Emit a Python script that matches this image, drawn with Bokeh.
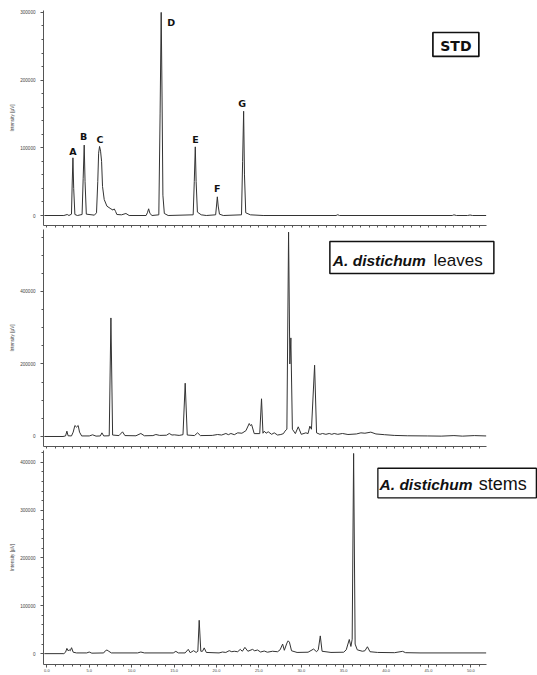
from bokeh.plotting import figure
from bokeh.layouts import column
from bokeh.models import FixedTicker, NumeralTickFormatter, BoxAnnotation, Label
from bokeh.embed import file_html
from bokeh.resources import INLINE

# ---------------- data ----------------
# retention time (min) / intensity (uV) points of each chromatogram
std_time = [-0.3, 2.0, 2.4, 2.6, 2.9, 2.98, 3.07, 3.16, 3.3, 3.6, 4.15, 4.28, 4.4, 4.5, 4.65,
            5.6, 5.85, 6.0, 6.1, 6.21, 6.33, 6.45, 6.56, 6.76, 7.08, 7.55, 7.8, 7.94, 8.1,
            8.25, 8.8, 9.32, 9.7, 11.7, 11.85, 12.0, 12.15, 12.4, 13.2, 13.35, 13.48, 13.58,
            13.68, 13.85, 14.3, 17.25, 17.38, 17.5, 17.6, 17.75, 18.2, 18.8, 19.9, 20.0, 20.1,
            20.2, 20.35, 20.8, 22.95, 23.08, 23.2, 23.3, 23.45, 24.0, 25.5, 34.1, 34.3, 34.5,
            47.8, 48.0, 48.3, 49.6, 49.9, 50.2, 51.8]
std_intensity = [0, 0, 1500, 0, 2000, 45000, 85200, 40000, 1500, 0, 1500, 55000, 104000, 50000, 2000,
                 500, 4000, 50000, 92000, 102000, 95000, 80000, 43000, 23600, 13800, 9800, 8000, 9800, 6000,
                 1500, 1000, 3000, 0, 0, 4000, 9900, 3000, 0, 1000, 150000, 300000, 175000,
                 30000, 3000, 0, 1000, 50000, 101400, 50000, 5000, 1000, 0, 1000, 14000, 27600,
                 14000, 2000, 0, 1000, 80000, 154000, 60000, 4000, 1000, 0, 0, 1200, 0,
                 0, 1000, 0, 0, 700, 0, 0]

leaves_time = [-0.3, 1.9, 2.2, 2.36, 2.5, 2.9, 3.1, 3.3, 3.5, 3.69, 3.85, 4.1, 5.0, 5.39, 5.8,
               6.3, 6.49, 6.7, 7.35, 7.55, 7.75, 8.5, 8.92, 9.2, 10.5, 11.08, 11.5, 12.5, 12.85,
               13.3, 14.1, 14.43, 14.75, 15.02, 15.6, 16.05, 16.31, 16.55, 17.4, 17.77, 18.1,
               19.5, 20.13, 20.6, 21.11, 21.4, 21.7, 22.1, 22.5, 23.0, 23.47, 23.86, 24.0, 24.14,
               24.45, 25.1, 25.31, 25.48, 25.63, 25.85, 26.1, 26.5, 26.81, 27.2, 27.59, 27.9,
               28.07, 28.3, 28.5, 28.65, 28.77, 28.95, 29.3, 29.64, 30.0, 30.54, 30.8, 31.01,
               31.2, 31.57, 31.8, 32.2, 32.5, 32.9, 33.29, 33.6, 33.88, 34.3, 34.86, 35.5, 36.5,
               37.03, 37.5, 38.2, 38.8, 39.8, 40.96, 42.5, 44.9, 46.5, 48.0, 49.0, 50.4, 51.8]
leaves_intensity = [0, 0, 1500, 14700, 2000, 1500, 12000, 30300, 26000, 30300, 12000, 1500, 1500, 4600, 1000,
                    1500, 10100, 1500, 2000, 327000, 4000, 2500, 12900, 2500, 2000, 8300, 2000, 2500, 5500,
                    3000, 3500, 8300, 4000, 4600, 3000, 5000, 147000, 4000, 2500, 10100, 2500,
                    3000, 5500, 4000, 8300, 5000, 8300, 5000, 10100, 9000, 16000, 35800, 30000, 33000,
                    8000, 8000, 104000, 9000, 14700, 9000, 13000, 6000, 10100, 4000, 5500, 8000,
                    14700, 20000, 563700, 200000, 272000, 20000, 8000, 26700, 6000, 10100, 8000, 28500,
                    20000, 196700, 10000, 6000, 8300, 6000, 8300, 6000, 8300, 6000, 8300, 5500, 7000,
                    10100, 9000, 12000, 7000, 5000, 3000, 2000, 1500, 1000, 2500, 1000, 2500, 1500]

stems_time = [-0.3, 2.0, 2.2, 2.36, 2.5, 2.63, 2.75, 2.91, 3.1, 3.5, 4.7, 4.99, 5.3, 6.7, 6.9,
              7.08, 7.3, 7.6, 10.7, 11.08, 11.5, 14.9, 15.21, 15.5, 16.3, 16.67, 16.9, 17.3,
              17.6, 17.8, 17.96, 18.15, 18.35, 18.55, 18.8, 20.3, 20.71, 21.1, 21.5, 21.8, 22.09,
              22.5, 22.8, 23.05, 23.35, 23.7, 24.25, 24.5, 24.84, 25.2, 25.63, 26.0, 26.61, 27.2,
              27.5, 27.8, 28.0, 28.3, 28.45, 28.6, 28.85, 29.5, 30.8, 31.45, 31.8, 32.0, 32.24,
              32.45, 33.5, 35.0, 35.3, 35.66, 35.85, 36.0, 36.17, 36.35, 36.6, 37.2, 37.5, 37.8,
              38.1, 39.0, 41.0, 41.94, 42.3, 44.0, 51.8]
stems_intensity = [0, 0, 3000, 11000, 6000, 8000, 6000, 12400, 3000, 1500, 1500, 3400, 1000, 1500, 6000,
                   7600, 5000, 1500, 1500, 3400, 1500, 1500, 4800, 1500, 1500, 9000, 2000, 6200,
                   2500, 5000, 69700, 5000, 5000, 12000, 2500, 1500, 3400, 2500, 6200, 4000, 5000,
                   4000, 8900, 5000, 13100, 5000, 8900, 6000, 7600, 3400, 5500, 3000, 5000, 4000,
                   8000, 20000, 7000, 22000, 26800, 24000, 6000, 2500, 3000, 9600, 4000, 8000, 37100,
                   5000, 2500, 3000, 8000, 29600, 15000, 30000, 418500, 20000, 8000, 5000, 6000, 14400,
                   4000, 2500, 2000, 4800, 2000, 1500, 1500]

# peak letters of the standard chromatogram
std_peak_labels = ["A", "B", "C", "D", "E", "F", "G"]
std_label_time = [3.07, 4.33, 6.25, 14.66, 17.51, 20.08, 23.03]
std_label_intensity = [94100, 116700, 112300, 285400, 112700, 40200, 165900]

# axis ticks
x_major_ticks = [0, 5, 10, 15, 20, 25, 30, 35, 40, 45, 50]
x_minor_ticks = list(range(0, 52))
std_y_ticks = [0, 100000, 200000, 300000]
leaves_y_ticks = [0, 200000, 400000]
stems_y_ticks = [0, 100000, 200000, 300000, 400000]
std_y_minor = list(range(0, 300001, 20000))
leaves_y_minor = list(range(0, 550001, 50000))
stems_y_minor = list(range(0, 420001, 20000))

y_axis_title = "Intensity [µV]"

# ---------------- layout / style ----------------
X_START, AXIS_END = -0.4, 51.8
FRAME_W = 494
X_END = X_START + FRAME_W / 8.48
LINE_C = "#333333"
AXIS_C = "#555555"
TICK_FONT = "Liberation Sans"


def make_panel(t, y, y_range, y_major, y_minor, frame_h, b_top, b_bottom, x_labels):
    p = figure(frame_width=FRAME_W, frame_height=frame_h,
               x_range=(X_START, X_END), y_range=y_range,
               output_backend="svg", toolbar_location=None,
               min_border_left=43, min_border_right=0,
               min_border_top=b_top, min_border_bottom=b_bottom)
    p.grid.visible = False
    p.outline_line_color = None
    p.background_fill_color = "white"
    p.border_fill_color = "white"
    p.line(t, y, line_color=LINE_C, line_width=1, line_join="round")

    xa = p.xaxis[0]
    if x_labels:
        xa.ticker = FixedTicker(ticks=x_major_ticks, minor_ticks=x_minor_ticks)
    else:
        xa.ticker = FixedTicker(ticks=[], minor_ticks=x_minor_ticks)
    xa.bounds = (X_START, AXIS_END)
    xa.formatter = NumeralTickFormatter(format="0.0")
    xa.axis_line_color = AXIS_C
    xa.major_tick_line_color = AXIS_C
    xa.minor_tick_line_color = AXIS_C
    xa.major_tick_in = 0
    xa.major_tick_out = 3
    xa.minor_tick_in = 0
    xa.minor_tick_out = 2
    xa.major_label_text_font = TICK_FONT
    xa.major_label_text_color = "#444444"
    xa.major_label_text_font_size = "4px"
    xa.major_label_standoff = 1

    ya = p.yaxis[0]
    ya.ticker = FixedTicker(ticks=y_major, minor_ticks=y_minor)
    ya.formatter = NumeralTickFormatter(format="0")
    ya.axis_line_color = AXIS_C
    ya.major_tick_line_color = AXIS_C
    ya.minor_tick_line_color = AXIS_C
    ya.major_tick_in = 0
    ya.major_tick_out = 3
    ya.minor_tick_in = 0
    ya.minor_tick_out = 2
    ya.major_label_text_font = TICK_FONT
    ya.major_label_text_font_size = "4.6px"
    ya.major_label_text_color = "#444444"
    ya.major_label_standoff = 5
    ya.axis_label = y_axis_title
    ya.axis_label_text_font = TICK_FONT
    ya.axis_label_text_font_size = "4.7px"
    ya.axis_label_text_font_style = "normal"
    ya.axis_label_text_color = "#444444"
    ya.axis_label_standoff = 2
    return p


p1 = make_panel(std_time, std_intensity, (-14770, 302800), std_y_ticks, std_y_minor,
                215, 10, 4, False)
p2 = make_panel(leaves_time, leaves_intensity, (-27600, 571000), leaves_y_ticks, leaves_y_minor,
                217, 0, 4, False)
p3 = make_panel(stems_time, stems_intensity, (-22700, 424700), stems_y_ticks, stems_y_minor,
                214, 0, 9, True)

# peak letters
for lab, tx, iy in zip(std_peak_labels, std_label_time, std_label_intensity):
    p1.add_layout(Label(x=tx, y=iy, text=lab, text_font="DejaVu Sans", text_font_size="9.5px",
                        text_font_style="bold", text_align="center", text_baseline="middle",
                        text_color="#111111"))

# sample boxes
BOX_C = "#111111"
p1.add_layout(BoxAnnotation(left=45.52, right=50.94, bottom=234900, top=270300,
                            fill_color="white", fill_alpha=1, line_color=BOX_C, line_alpha=1,
                            line_width=1.7))
p1.add_layout(Label(x=48.23, y=250300, text="STD", text_font="DejaVu Sans", text_font_size="14px",
                    text_font_style="bold", text_align="center", text_baseline="alphabetic",
                    text_color="#111111"))

p2.add_layout(BoxAnnotation(left=33.37, right=52.71, bottom=449700, top=537900,
                            fill_color="white", fill_alpha=1, line_color=BOX_C, line_alpha=1,
                            line_width=1.5))
p2.add_layout(Label(x=44.69, y=485500, text="A. distichum", text_font="Liberation Sans",
                    text_font_size="15.5px", text_font_style="bold italic", text_align="right",
                    text_baseline="alphabetic", text_color="#111111"))
p2.add_layout(Label(x=45.6, y=485500, text="leaves", text_font="Liberation Sans",
                    text_font_size="17px", text_font_style="normal", text_align="left",
                    text_baseline="alphabetic", text_color="#111111"))

p3.add_layout(BoxAnnotation(left=39.03, right=57.72, bottom=325800, top=387600,
                            fill_color="white", fill_alpha=1, line_color=BOX_C, line_alpha=1,
                            line_width=1.3))
p3.add_layout(Label(x=50.2, y=354600, text="A. distichum", text_font="Liberation Sans",
                    text_font_size="15.5px", text_font_style="bold italic", text_align="right",
                    text_baseline="alphabetic", text_color="#111111"))
p3.add_layout(Label(x=50.94, y=354600, text="stems", text_font="Liberation Sans",
                    text_font_size="18px", text_font_style="normal", text_align="left",
                    text_baseline="alphabetic", text_color="#111111"))

layout = column(p1, p2, p3)
with open("out.html", "w", encoding="utf-8") as f:
    f.write(file_html(layout, INLINE))
